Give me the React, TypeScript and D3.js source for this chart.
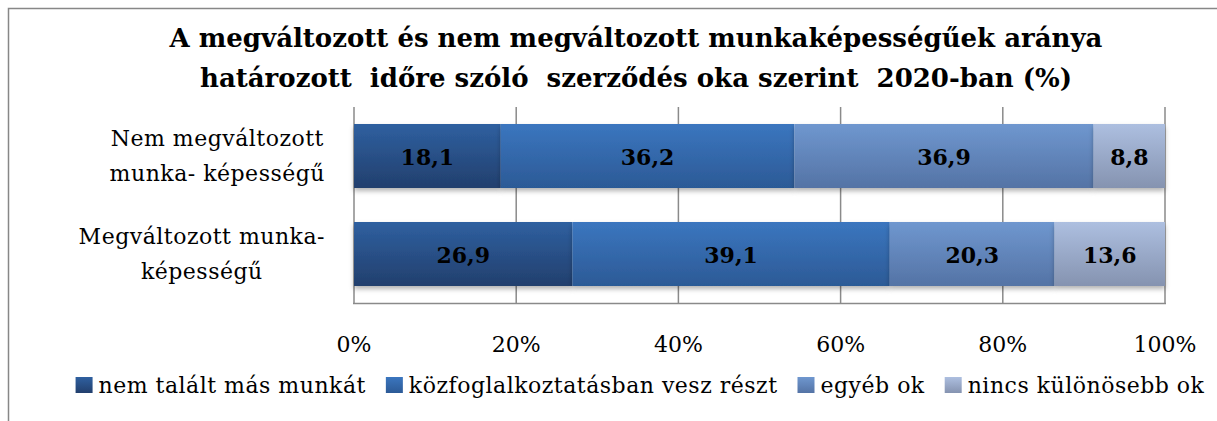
import React, { useRef, useEffect } from 'react';
import * as d3 from 'd3';

const titleLines = [
  'A megváltozott és nem megváltozott munkaképességűek aránya',
  'határozott  időre szóló  szerződés oka szerint  2020-ban (%)',
];

const categories = ['Nem megváltozott munka- képességű', 'Megváltozott munka- képességű'];
const categoryLines = [
  ['Nem megváltozott', 'munka- képességű'],
  ['Megváltozott munka-', 'képességű'],
];

const seriesNames = [
  'nem talált más munkát',
  'közfoglalkoztatásban vesz részt',
  'egyéb ok',
  'nincs különösebb ok',
];
const nemTalalt = [18.1, 26.9];
const kozfoglalkoztatas = [36.2, 39.1];
const egyebOk = [36.9, 20.3];
const nincsKulonosebb = [8.8, 13.6];

const tickValues = [0, 0.2, 0.4, 0.6, 0.8, 1];

// top / bottom colours of each series' vertical gradient
const gradients = [
  ['#2f60a0', '#223f6d'],
  ['#3b76bf', '#2c5a96'],
  ['#6f97cf', '#5473a5'],
  ['#adbfe0', '#8593b0'],
];

const W = 1217;
const H = 421;
const FONT = '"DejaVu Serif", "Liberation Serif", serif';
const LS = '0.5px';

export default function App() {
  const svgRef = useRef<SVGSVGElement>(null);

  useEffect(() => {
    if (!svgRef.current) return;
    const svg = d3.select(svgRef.current);
    svg.selectAll('*').remove();

    const rows = categories.map((c, i) => ({
      category: c,
      [seriesNames[0]]: nemTalalt[i],
      [seriesNames[1]]: kozfoglalkoztatas[i],
      [seriesNames[2]]: egyebOk[i],
      [seriesNames[3]]: nincsKulonosebb[i],
    }));

    const stacked = d3.stack<any>()
      .keys(seriesNames)
      .offset(d3.stackOffsetExpand)(rows);

    const x = d3.scaleLinear().domain([0, 1]).range([354, 1165]);
    const y = d3.scaleBand()
      .domain(categories)
      .range([107, 303])
      .paddingInner(0.347)
      .paddingOuter(0.1735);

    const defs = svg.append('defs');
    gradients.forEach((g, i) => {
      const lg = defs.append('linearGradient')
        .attr('id', `grad${i}`)
        .attr('x1', 0).attr('y1', 0).attr('x2', 0).attr('y2', 1);
      lg.append('stop').attr('offset', '0%').attr('stop-color', g[0]);
      lg.append('stop').attr('offset', '100%').attr('stop-color', g[1]);
    });
    const shadow = defs.append('filter').attr('id', 'shadow')
      .attr('x', '-5%').attr('y', '-20%').attr('width', '110%').attr('height', '150%');
    shadow.append('feDropShadow')
      .attr('dx', 0).attr('dy', 3).attr('stdDeviation', 2.5)
      .attr('flood-color', '#000').attr('flood-opacity', 0.3);

    // outer frame
    svg.append('rect')
      .attr('x', 8.5).attr('y', 8.5)
      .attr('width', W + 20).attr('height', H + 20)
      .attr('fill', 'none').attr('stroke', '#878787').attr('stroke-width', 1.5);

    // title
    svg.append('g').selectAll('text')
      .data(titleLines)
      .enter().append('text')
      .attr('x', 636)
      .attr('y', (_d, i) => 47 + i * 40)
      .attr('text-anchor', 'middle')
      .attr('font-family', FONT)
      .attr('font-weight', 'bold')
      .attr('font-size', 26)
      .attr('fill', '#000')
      .attr('xml:space', 'preserve')
      .style('white-space', 'pre')
      .text(d => d);

    // gridlines
    svg.append('g').selectAll('line')
      .data(tickValues)
      .enter().append('line')
      .attr('x1', d => x(d)).attr('x2', d => x(d))
      .attr('y1', 107).attr('y2', 304)
      .attr('stroke', '#8a8a8a').attr('stroke-width', 1.5);
    svg.append('line')
      .attr('x1', 353).attr('x2', 1166)
      .attr('y1', 303.5).attr('y2', 303.5)
      .attr('stroke', '#8a8a8a').attr('stroke-width', 1.5);

    // bars
    const barG = svg.append('g');
    stacked.forEach((layer, si) => {
      barG.append('g')
        .attr('filter', 'url(#shadow)')
        .selectAll('rect')
        .data(layer)
        .enter().append('rect')
        .attr('x', d => x(d[0]))
        .attr('y', d => y(d.data.category)!)
        .attr('width', d => x(d[1]) - x(d[0]))
        .attr('height', y.bandwidth())
        .attr('fill', `url(#grad${si})`);
    });

    // value labels
    const vals = [nemTalalt, kozfoglalkoztatas, egyebOk, nincsKulonosebb];
    stacked.forEach((layer, si) => {
      barG.append('g').selectAll('text')
        .data(layer)
        .enter().append('text')
        .attr('x', d => (x(d[0]) + x(d[1])) / 2)
        .attr('y', d => y(d.data.category)! + y.bandwidth() / 2 + 9)
        .attr('text-anchor', 'middle')
        .attr('font-family', FONT)
        .attr('font-weight', 'bold')
        .attr('font-size', 22)
        .attr('fill', '#000')
        .text((_d, i) => String(vals[si][i]).replace('.', ','));
    });

    // category labels: block right-aligned, lines centred within it
    categories.forEach((c, ci) => {
      const lines = categoryLines[ci];
      const cy = y(c)! + y.bandwidth() / 2;
      const tg = svg.append('g');
      const texts = tg.selectAll('text')
        .data(lines)
        .enter().append('text')
        .attr('y', (_d, i) => cy + (i - (lines.length - 1) / 2) * 35 + 7.5)
        .attr('text-anchor', 'middle')
        .attr('font-family', FONT)
        .attr('font-size', 22)
        .attr('letter-spacing', LS)
        .attr('fill', '#000')
        .text(d => d);
      let maxW = 0;
      texts.each(function () {
        maxW = Math.max(maxW, (this as SVGTextElement).getComputedTextLength());
      });
      texts.attr('x', 325 - maxW / 2);
    });

    // axis tick labels
    svg.append('g').selectAll('text')
      .data(tickValues)
      .enter().append('text')
      .attr('x', d => x(d))
      .attr('y', 352)
      .attr('text-anchor', 'middle')
      .attr('font-family', FONT)
      .attr('font-size', 22)
      .attr('fill', '#000')
      .text(d => d3.format('.0%')(d));

    // legend
    const legend = svg.append('g');
    let cx = 0;
    seriesNames.forEach((name, i) => {
      const item = legend.append('g').attr('transform', `translate(${cx},0)`);
      item.append('rect')
        .attr('x', 0).attr('y', 377)
        .attr('width', 17).attr('height', 16)
        .attr('fill', `url(#grad${i})`);
      const t = item.append('text')
        .attr('x', 23).attr('y', 393)
        .attr('font-family', FONT)
        .attr('font-size', 22)
        .attr('letter-spacing', LS)
        .attr('fill', '#000')
        .text(name);
      const tw = (t.node() as SVGTextElement).getComputedTextLength();
      cx += 23 + tw + 20;
    });
    const total = cx - 20;
    legend.attr('transform', `translate(${640 - total / 2},0)`);
  }, []);

  return (
    <div style={{ position: 'absolute', left: 0, top: 0, width: W, height: H, background: '#fff' }}>
      <svg ref={svgRef} width={W} height={H} viewBox={`0 0 ${W} ${H}`} />
    </div>
  );
}
